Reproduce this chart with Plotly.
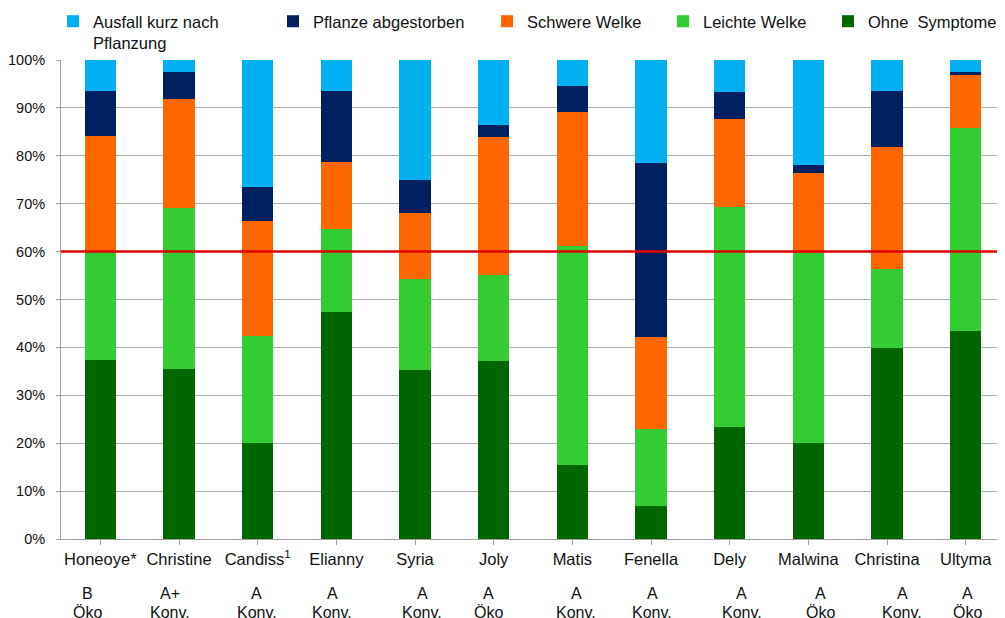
import plotly.graph_objects as go

# ---- data ----
categories = ["Honeoye*", "Christine", "Candiss<sup>1</sup>", "Elianny", "Syria", "Joly",
              "Matis", "Fenella", "Dely", "Malwina", "Christina", "Ultyma"]
grades = ["B", "A+", "A", "A", "A", "A", "A", "A", "A", "A", "A", "A"]
systems = ["Öko", "Konv.", "Konv.", "Konv.", "Konv.", "Öko", "Konv.", "Konv.", "Konv.", "Öko", "Konv.", "Öko"]

ohne_symptome = [37.4, 35.5, 20.0, 47.4, 35.3, 37.2, 15.4, 6.9, 23.4, 20.0, 39.9, 43.4]
leichte_welke = [22.6, 33.6, 22.4, 17.3, 19.0, 17.9, 45.8, 16.1, 45.9, 39.7, 16.5, 42.5]
schwere_welke = [24.1, 22.8, 24.0, 14.0, 13.8, 28.8, 27.9, 19.2, 18.4, 16.7, 25.4, 11.0]
abgestorben = [9.4, 5.6, 7.1, 14.8, 6.8, 2.5, 5.5, 36.3, 5.6, 1.7, 11.7, 0.7]
ausfall = [6.5, 2.5, 26.5, 6.5, 25.1, 13.6, 5.4, 21.5, 6.7, 21.9, 6.5, 2.4]

threshold = 60

# ---- style ----
FONT = "Liberation Sans, Arial, sans-serif"
label_xshift = [-13, -9, -1, -4, 7, -5, 4, 1, 12, 12, 15, 2]

# (name, values, colour, legend id, page x where legend text starts)
series = [
    ("Ohne\u00a0 Symptome", ohne_symptome, "#006600", "legend5", 868),
    ("Leichte Welke", leichte_welke, "#33CC33", "legend4", 703),
    ("Schwere Welke", schwere_welke, "#FF6600", "legend3", 527),
    ("Pflanze abgestorben", abgestorben, "#002060", "legend2", 313),
    ("Ausfall kurz nach<br>Pflanzung", ausfall, "#00B0F0", "legend", 93),
]

# page has an 8px body offset; figure sized to fit the 1005x618 window
OFF = 8
W, H = 1005 - OFF, 618 - OFF
L, R, T, B = 61 - OFF, 0, 60 - OFF, 79
pw = W - L - R
ph = H - T - B

fig = go.Figure()
x_idx = list(range(len(categories)))
for name, vals, color, leg, _ in series:
    fig.add_trace(go.Bar(
        x=x_idx, y=vals, name=name, marker=dict(color=color, line=dict(width=0)),
        width=0.4, legend=leg, hoverinfo="y+name",
    ))

legend_layout = {}
for name, vals, color, leg, text_px in series:
    legend_layout[leg] = dict(
        x=(text_px - OFF - 40 - L) / pw, xanchor="left",
        y=(H - B + 4) / ph, yanchor="top",
        orientation="h", valign="top",
        font=dict(family=FONT, size=16.5, color="#111111"),
        bgcolor="rgba(0,0,0,0)", borderwidth=0,
        itemclick=False, itemdoubleclick=False,
    )

annotations = []
for i, (g, s) in enumerate(zip(grades, systems)):
    annotations.append(dict(x=i, y=0, xref="x", yref="paper", text=g, showarrow=False,
                            yanchor="middle", yshift=-54, xshift=label_xshift[i],
                            font=dict(family=FONT, size=16, color="#111111")))
    annotations.append(dict(x=i, y=0, xref="x", yref="paper", text=s, showarrow=False,
                            yanchor="middle", yshift=-73, xshift=label_xshift[i],
                            font=dict(family=FONT, size=16, color="#111111")))

fig.update_layout(
    width=W, height=H,
    margin=dict(l=L, r=R, t=T, b=B, autoexpand=False),
    barmode="stack",
    bargap=0.6,
    plot_bgcolor="white", paper_bgcolor="white",
    font=dict(family=FONT, color="#111111"),
    showlegend=True,
    annotations=annotations,
    shapes=[dict(type="line", xref="paper", yref="y", x0=0, x1=1, y0=threshold, y1=threshold,
                 line=dict(color="#DD0000", width=2.5), layer="above")],
    **legend_layout,
)

fig.update_xaxes(
    range=[-0.5, len(categories) - 0.5],
    tickmode="array", tickvals=x_idx, ticktext=categories,
    tickson="boundaries", ticks="outside", ticklen=5, tickcolor="#A0A0A0",
    showline=True, linecolor="#A0A0A0", linewidth=1,
    showgrid=False, zeroline=False,
    tickfont=dict(family=FONT, size=16.5, color="#111111"),
    fixedrange=True,
)
fig.update_yaxes(
    range=[0, 100], dtick=10, ticksuffix="%",
    showgrid=True, gridcolor="#ABABAB", gridwidth=1,
    showline=True, linecolor="#A0A0A0", linewidth=1,
    ticks="outside", ticklen=4, tickcolor="#A0A0A0",
    ticklabelstandoff=8,
    zeroline=False,
    tickfont=dict(family=FONT, size=14.5, color="#111111"),
    fixedrange=True,
)

fig.write_html("out.html", config={"displayModeBar": False})
